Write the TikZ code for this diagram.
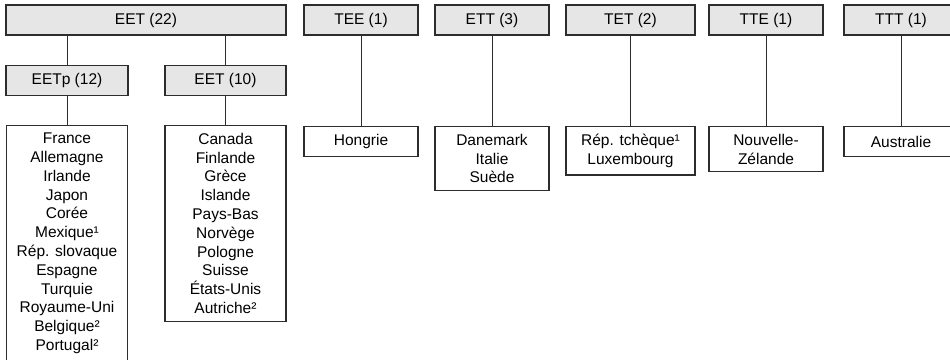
\documentclass[tikz,border=0pt]{standalone}
\usepackage{fontspec}
\setmainfont{Liberation Sans}
\definecolor{headgray}{RGB}{230,230,230}
\definecolor{linegray}{RGB}{45,45,45}
\begin{document}
\begin{tikzpicture}[x=1pt, y=-1pt, font=\fontsize{15.5}{18.8}\selectfont,
    head/.style={draw=linegray, line width=1.2pt, fill=headgray, minimum height=30pt, inner sep=0pt},
    lst/.style={draw=linegray, line width=1.2pt, fill=white, align=center, anchor=north, minimum height=30pt, inner xsep=2pt, inner ysep=7.5pt},
    link/.style={draw=linegray, line width=0.9pt}]
\useasboundingbox (0,0) rectangle (950,359);

\node[head, minimum width=280pt] (eet) at (146,20) {EET (22)};
\node[head, minimum width=114pt] (tee) at (361,20) {TEE (1)};
\node[head, minimum width=114pt] (ett) at (492,20) {ETT (3)};
\node[head, minimum width=129pt] (tet) at (630.5,20) {TET (2)};
\node[head, minimum width=114pt] (tte) at (766,20) {TTE (1)};
\node[head, minimum width=114pt] (ttt) at (901,20) {TTT (1)};

\node[head, minimum width=122pt] (eetp) at (67,80.5) {EETp (12)};
\node[head, minimum width=121pt] (eetn) at (225.5,80.5) {EET (10)};

\node[lst, minimum width=121pt] (pays1) at (67,125) {France\\Allemagne\\Irlande\\Japon\\Corée\\Mexique¹\\Rép. slovaque\\Espagne\\Turquie\\Royaume-Uni\\Belgique²\\Portugal²};
\node[lst, minimum width=121pt] (pays2) at (225.5,125) {Canada\\Finlande\\Grèce\\Islande\\Pays-Bas\\Norvège\\Pologne\\Suisse\\États-Unis\\Autriche²};
\node[lst, minimum width=114pt] (pays3) at (361,126) {Hongrie};
\node[lst, minimum width=114pt] (pays4) at (492,126) {Danemark\\Italie\\Suède};
\node[lst, minimum width=129pt] (pays5) at (630.5,126) {Rép. tchèque¹\\Luxembourg};
\node[lst, minimum width=114pt] (pays6) at (766,126) {Nouvelle-\\Zélande};
\node[lst, minimum width=114pt] (pays7) at (901,126) {Australie};

\draw[link] (eetp.north) -- (eetp.north |- eet.south);
\draw[link] (eetn.north) -- (eetn.north |- eet.south);
\draw[link] (eetp) -- (pays1);
\draw[link] (eetn) -- (pays2);
\draw[link] (tee) -- (pays3);
\draw[link] (ett) -- (pays4);
\draw[link] (tet) -- (pays5);
\draw[link] (tte) -- (pays6);
\draw[link] (ttt) -- (pays7);

\end{tikzpicture}
\end{document}
